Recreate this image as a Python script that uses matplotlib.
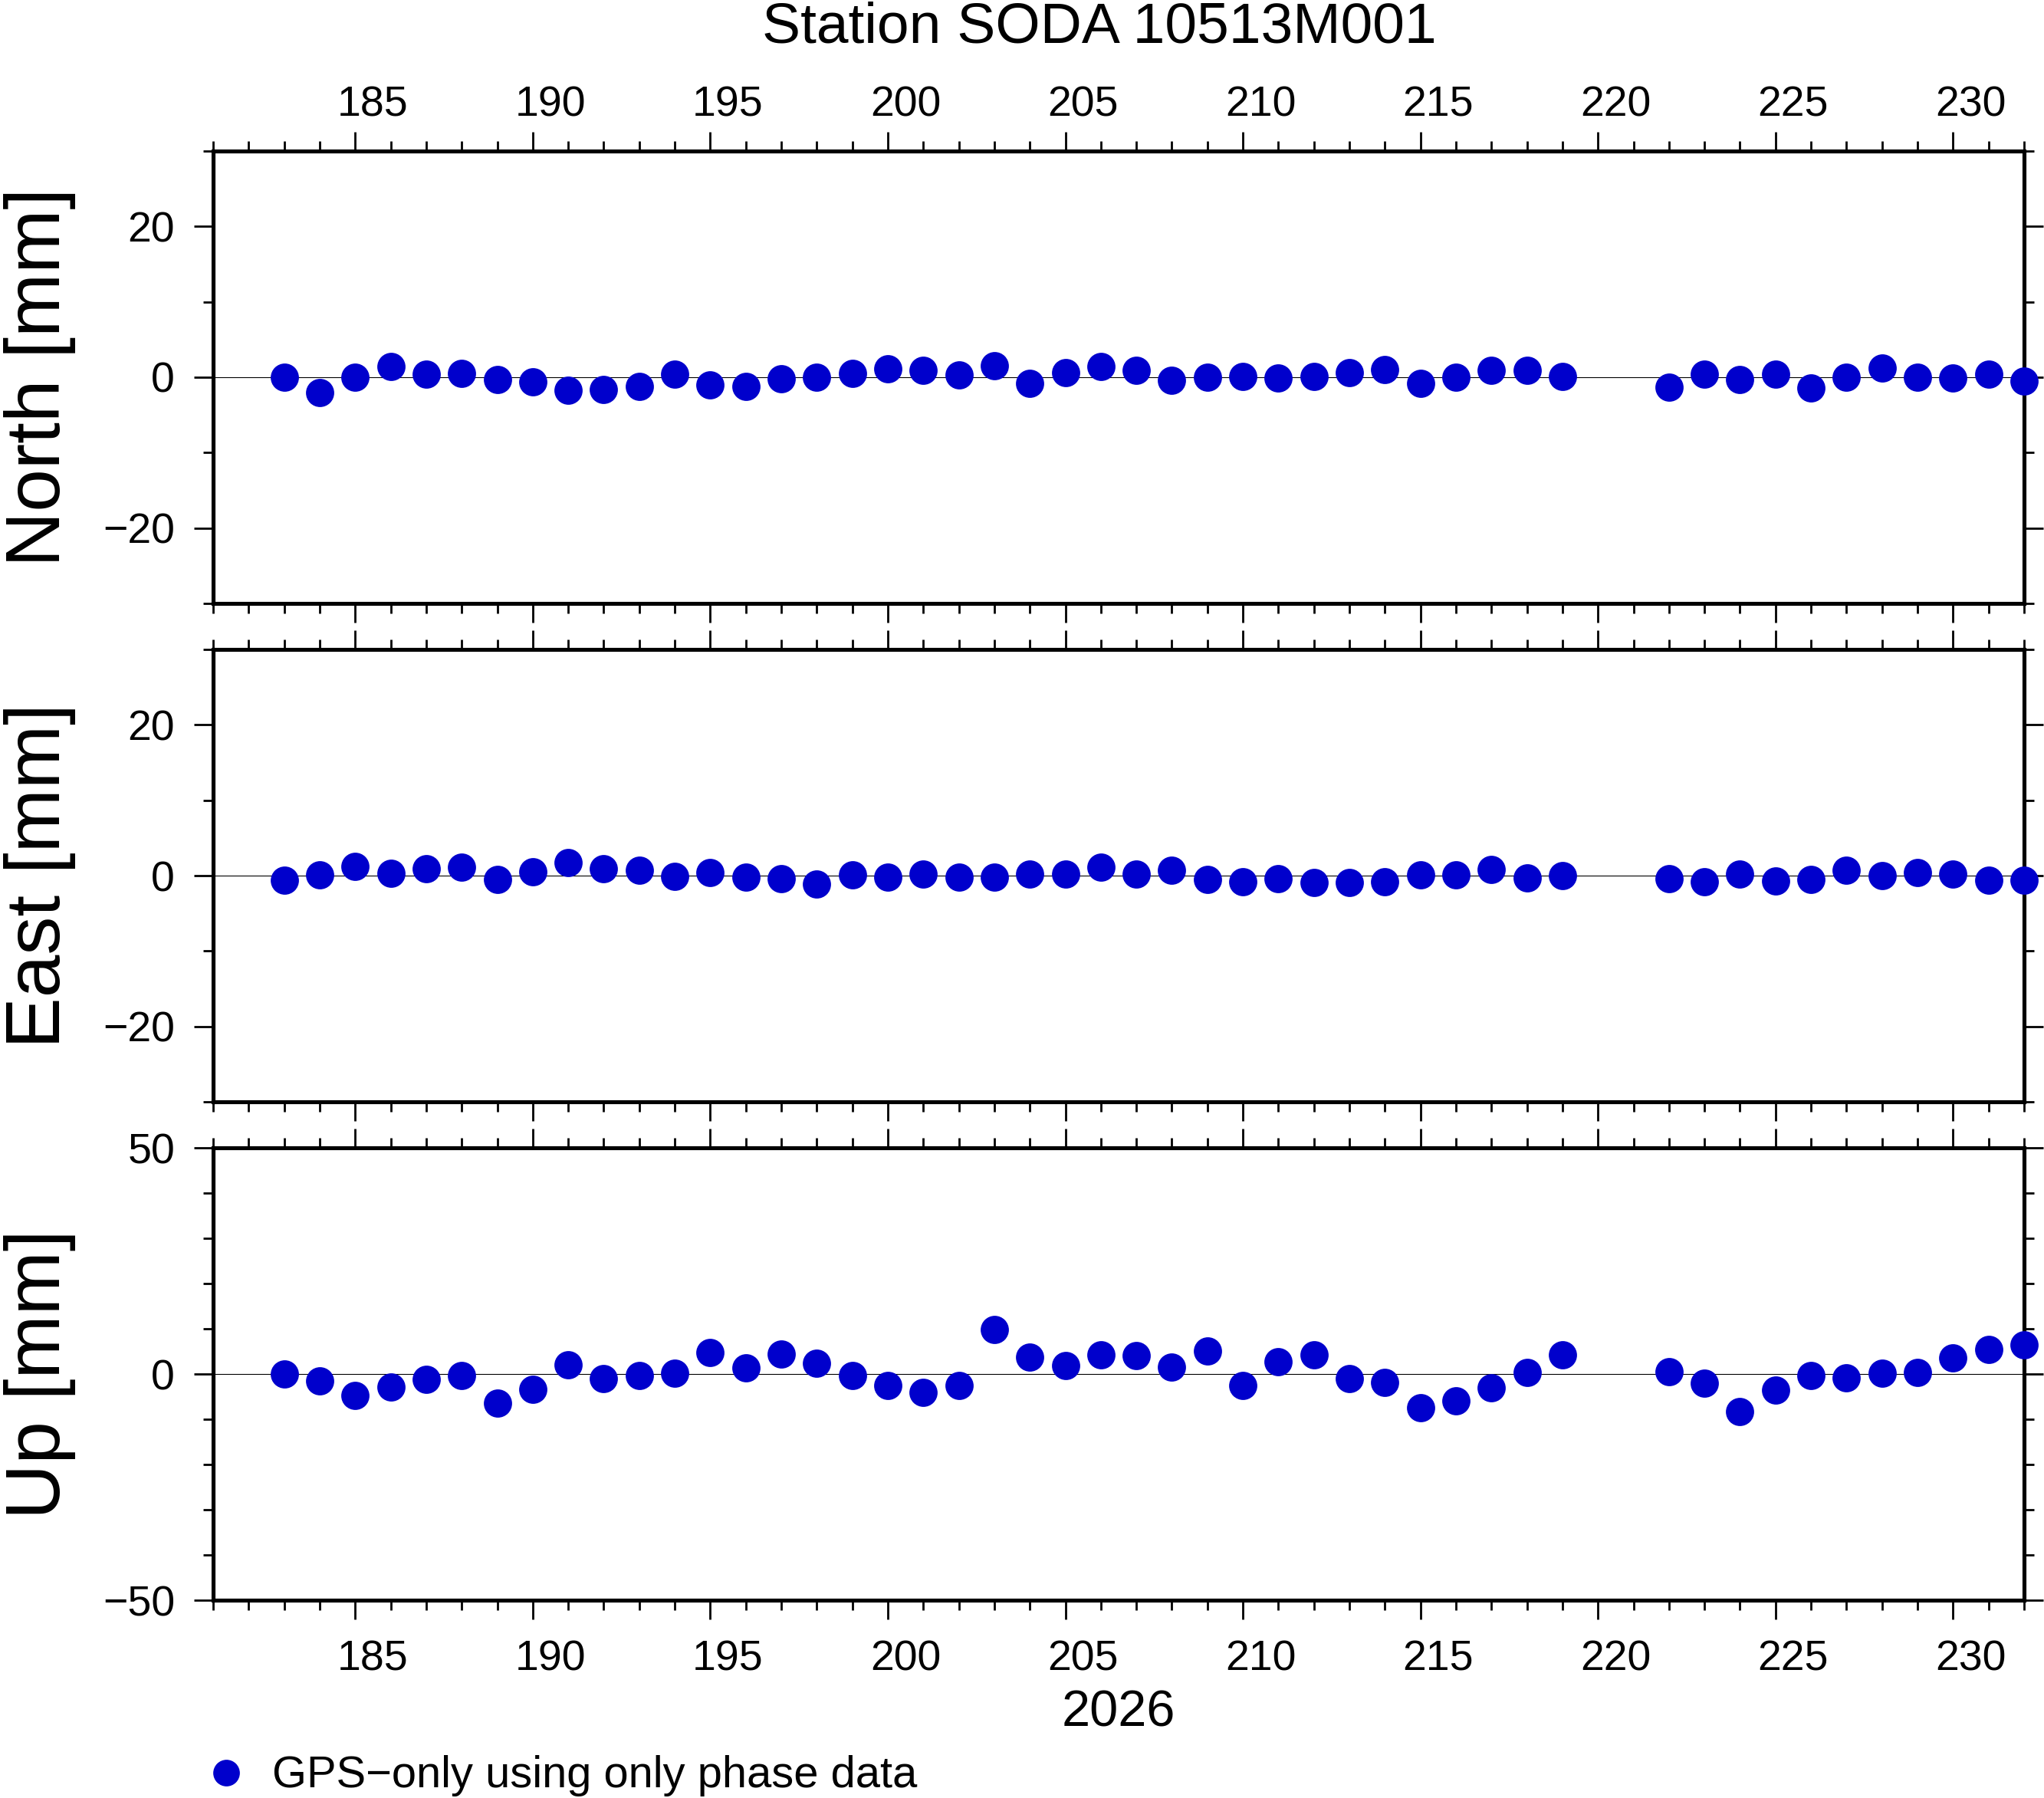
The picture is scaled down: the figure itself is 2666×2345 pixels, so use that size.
import matplotlib
matplotlib.use("Agg")
import matplotlib.pyplot as plt

plt.rcParams['font.family'] = ['Liberation Sans', 'DejaVu Sans']

# day of year 2026
days = [183, 184, 185, 186, 187, 188, 189, 190, 191, 192, 193, 194, 195, 196,
        197, 198, 199, 200, 201, 202, 203, 204, 205, 206, 207, 208, 209, 210,
        211, 212, 213, 214, 215, 216, 217, 218, 219,
        222, 223, 224, 225, 226, 227, 228, 229, 230, 231, 232]

north = [0.0, -2.0, 0.0, 1.4, 0.4, 0.5, -0.3, -0.6, -1.75, -1.6, -1.2, 0.4, -1.0, -1.2,
         -0.2, 0.0, 0.5, 1.1, 0.95, 0.3, 1.5, -0.8, 0.6, 1.4, 0.9, -0.4, 0.0, 0.1,
         -0.1, 0.1, 0.6, 1.05, -0.8, 0.0, 0.9, 0.9, 0.1,
         -1.3, 0.4, -0.3, 0.4, -1.45, 0.0, 1.2, 0.0, -0.1, 0.4, -0.55]

east = [-0.6, 0.1, 1.25, 0.3, 0.9, 1.1, -0.5, 0.5, 1.7, 0.9, 0.7, -0.1, 0.4, -0.25,
        -0.4, -1.1, 0.1, -0.2, 0.2, -0.25, -0.2, 0.2, 0.2, 1.1, 0.2, 0.7, -0.5, -0.8,
        -0.4, -0.9, -0.9, -0.8, 0.1, 0.1, 0.8, -0.3, 0.0,
        -0.4, -0.8, 0.2, -0.7, -0.5, 0.7, 0.0, 0.4, 0.2, -0.6, -0.6]

up = [0.0, -1.6, -4.7, -2.8, -1.2, -0.3, -6.5, -3.4, 2.0, -1.0, -0.3, 0.1, 4.8, 1.35,
      4.5, 2.4, -0.3, -2.5, -4.0, -2.5, 9.9, 3.8, 1.8, 4.3, 4.15, 1.5, 5.1, -2.5,
      2.7, 4.3, -1.0, -1.9, -7.4, -5.9, -3.0, 0.4, 4.25,
      0.6, -2.1, -8.3, -3.5, -0.4, -0.8, 0.1, 0.4, 3.5, 5.4, 6.5]

xticks_major = [185, 190, 195, 200, 205, 210, 215, 220, 225, 230]
xtick_labels = ['185', '190', '195', '200', '205', '210', '215', '220', '225', '230']

panels = [
    ('North [mm]', north, (-30, 30), [-20, 0, 20], [-30, -10, 10, 30], 0.6644),
    ('East [mm]', east, (-30, 30), [-20, 0, 20], [-30, -10, 10, 30], 0.3872),
    ('Up [mm]', up, (-50, 50), [-50, 0, 50], [-40, -30, -20, -10, 10, 20, 30, 40], 0.1100),
]

blue = '#0000CC'
W, H = 2666, 2345
fig = plt.figure(figsize=(W / 100, H / 100), dpi=100)

left = 278 / W
width = (2640 - 278) / W
height = 590 / H

axes = []
for i, (label, vals, ylim, ymaj, ymin, bottom) in enumerate(panels):
    ax = fig.add_axes([left, bottom, width, height])
    ax.set_xlim(181, 232)
    ax.set_ylim(*ylim)
    ax.axhline(0, color='black', lw=0.8, zorder=1)
    ax.plot(days, vals, 'o', color=blue, ms=26.5, mew=0, clip_on=False, zorder=3)

    for s in ax.spines.values():
        s.set_linewidth(3.7)
    ax.set_xticks(xticks_major)
    ax.set_xticks(range(181, 233), minor=True)
    ax.set_yticks(ymaj)
    ax.set_yticks(ymin, minor=True)
    ax.tick_params(axis='x', which='both', direction='out', top=True, bottom=True,
                   labelbottom=False, labeltop=False, width=2)
    ax.tick_params(axis='y', which='both', direction='out', left=True, right=True,
                   labelsize=40, pad=18, width=2)
    ax.tick_params(which='major', length=18)
    ax.tick_params(which='minor', length=9.4)

    # rotated panel label
    cy = bottom + height / 2
    fig.text(52 / W, cy, label, rotation=90, ha='center', va='center', fontsize=72)
    axes.append(ax)

# day annotations are centred within the day interval
lab_pos = [d + 0.5 for d in xticks_major]
sec_top = axes[0].secondary_xaxis('top')
sec_top.set_xticks(lab_pos, xtick_labels)
sec_top.tick_params(length=0, labelsize=40, pad=24)
sec_top.spines['top'].set_visible(False)

sec_bot = axes[2].secondary_xaxis('bottom')
sec_bot.set_xticks(lab_pos, xtick_labels)
sec_bot.tick_params(length=0, labelsize=40, pad=37)
sec_bot.spines['bottom'].set_visible(False)

fig.text(1434 / W, 1 - 56 / H, 'Station SODA 10513M001', ha='center', va='baseline', fontsize=54)
fig.text(1459 / W, 1 - 2252 / H, '2026', ha='center', va='baseline', fontsize=48)

# legend
fig.lines.append(plt.Line2D([294.7 / W], [1 - 2312 / H], marker='o', color=blue, ms=25,
                            mew=0, ls='none', transform=fig.transFigure))
fig.text(355 / W, 1 - 2331 / H, 'GPS\u2212only using only phase data', ha='left',
         va='baseline', fontsize=41.7)

fig.savefig('out.png', dpi=100)
